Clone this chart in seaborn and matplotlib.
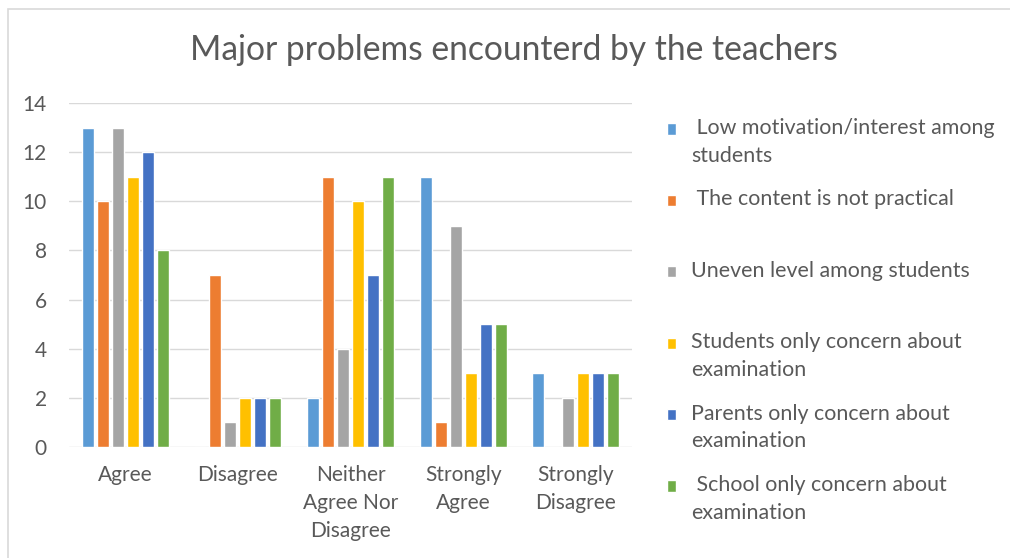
import matplotlib
matplotlib.use("Agg")
import matplotlib.pyplot as plt
from matplotlib.patches import Rectangle
import seaborn as sns
import pandas as pd

# Response categories on the x axis
categories = ["Agree", "Disagree", "Neither Agree Nor Disagree",
              "Strongly Agree", "Strongly Disagree"]
category_labels = ["Agree", "Disagree", "Neither\nAgree Nor\nDisagree",
                   "Strongly\nAgree", "Strongly\nDisagree"]

# Problems (one series each)
problems = [
    "Low motivation/interest among students",
    "The content is not practical",
    "Uneven level among students",
    "Students only concern about examination",
    "Parents only concern about examination",
    "School only concern about examination",
]
legend_labels = [
    " Low motivation/interest among\nstudents",
    " The content is not practical\n ",
    "Uneven level among students\n ",
    "Students only concern about\nexamination",
    "Parents only concern about\nexamination",
    " School only concern about\nexamination",
]

# Counts per problem, in category order
low_motivation = [13, 0, 2, 11, 3]
not_practical = [10, 7, 11, 1, 0]
uneven_level = [13, 1, 4, 9, 2]
students_exam = [11, 2, 10, 3, 3]
parents_exam = [12, 2, 7, 5, 3]
school_exam = [8, 2, 11, 5, 3]

series_values = [low_motivation, not_practical, uneven_level,
                 students_exam, parents_exam, school_exam]
palette = ["#5B9BD5", "#ED7D31", "#A5A5A5", "#FFC000", "#4472C4", "#70AD47"]

rows = []
for name, vals in zip(problems, series_values):
    for cat, v in zip(categories, vals):
        rows.append({"category": cat, "problem": name, "count": v})
df = pd.DataFrame(rows)

sns.set_theme(style="white")
plt.rcParams["font.family"] = ["Lato", "DejaVu Sans"]
text_color = "#595959"
fs = 15

fig = plt.figure(figsize=(10.1, 5.58), dpi=100)
ax = fig.add_axes([69 / 1010, 1 - 447 / 558, (632 - 69) / 1010, (447 - 103) / 558])

sns.barplot(data=df, x="category", y="count", hue="problem",
            order=categories, hue_order=problems, palette=palette,
            width=0.8, gap=0.2, saturation=1, errorbar=None,
            legend=True, ax=ax)

ax.set_ylim(0, 14)
ax.set_yticks(range(0, 15, 2))
ax.set_xlim(-0.5, len(categories) - 0.5)
ax.set_xticks(range(len(categories)))
ax.set_xticklabels(category_labels, linespacing=1.5)
ax.set_xlabel("")
ax.set_ylabel("")
ax.grid(axis="y", color="#D9D9D9", linewidth=1)
ax.set_axisbelow(True)
for s in ax.spines.values():
    s.set_visible(False)
ax.tick_params(axis="both", length=0, labelsize=fs, colors=text_color)
ax.tick_params(axis="y", pad=16)
ax.tick_params(axis="x", pad=13)

handles, _ = ax.get_legend_handles_labels()
ax.get_legend().remove()
leg = fig.legend(handles, legend_labels, loc="upper left",
                 bbox_to_anchor=(667 / 1010, 1 - 118 / 558),
                 bbox_transform=fig.transFigure, frameon=False,
                 fontsize=fs, handlelength=0.45, handleheight=0.45,
                 handletextpad=0.7, labelspacing=1.13,
                 borderpad=0, borderaxespad=0)
line_sp = 1.49
for t in leg.get_texts():
    t.set_color(text_color)
    t.set_linespacing(line_sp)
    t.set_fontsize(15.4)
# align each swatch with the first line of its label
for h in leg.legend_handles:
    h.set_y(h.get_y() + 9.7)

fig.text(514 / 1010, 1 - 50 / 558, "Major problems encounterd by the teachers",
         ha="center", va="center", fontsize=24.2, color=text_color)

# thin chart frame
fig.patches.append(Rectangle((8 / 1010, -0.1), 1.2, 1 - 9 / 558 + 0.1,
                             transform=fig.transFigure, fill=False,
                             edgecolor="#D9D9D9", linewidth=1.2))

fig.savefig("out.png", dpi=100, facecolor="white")
